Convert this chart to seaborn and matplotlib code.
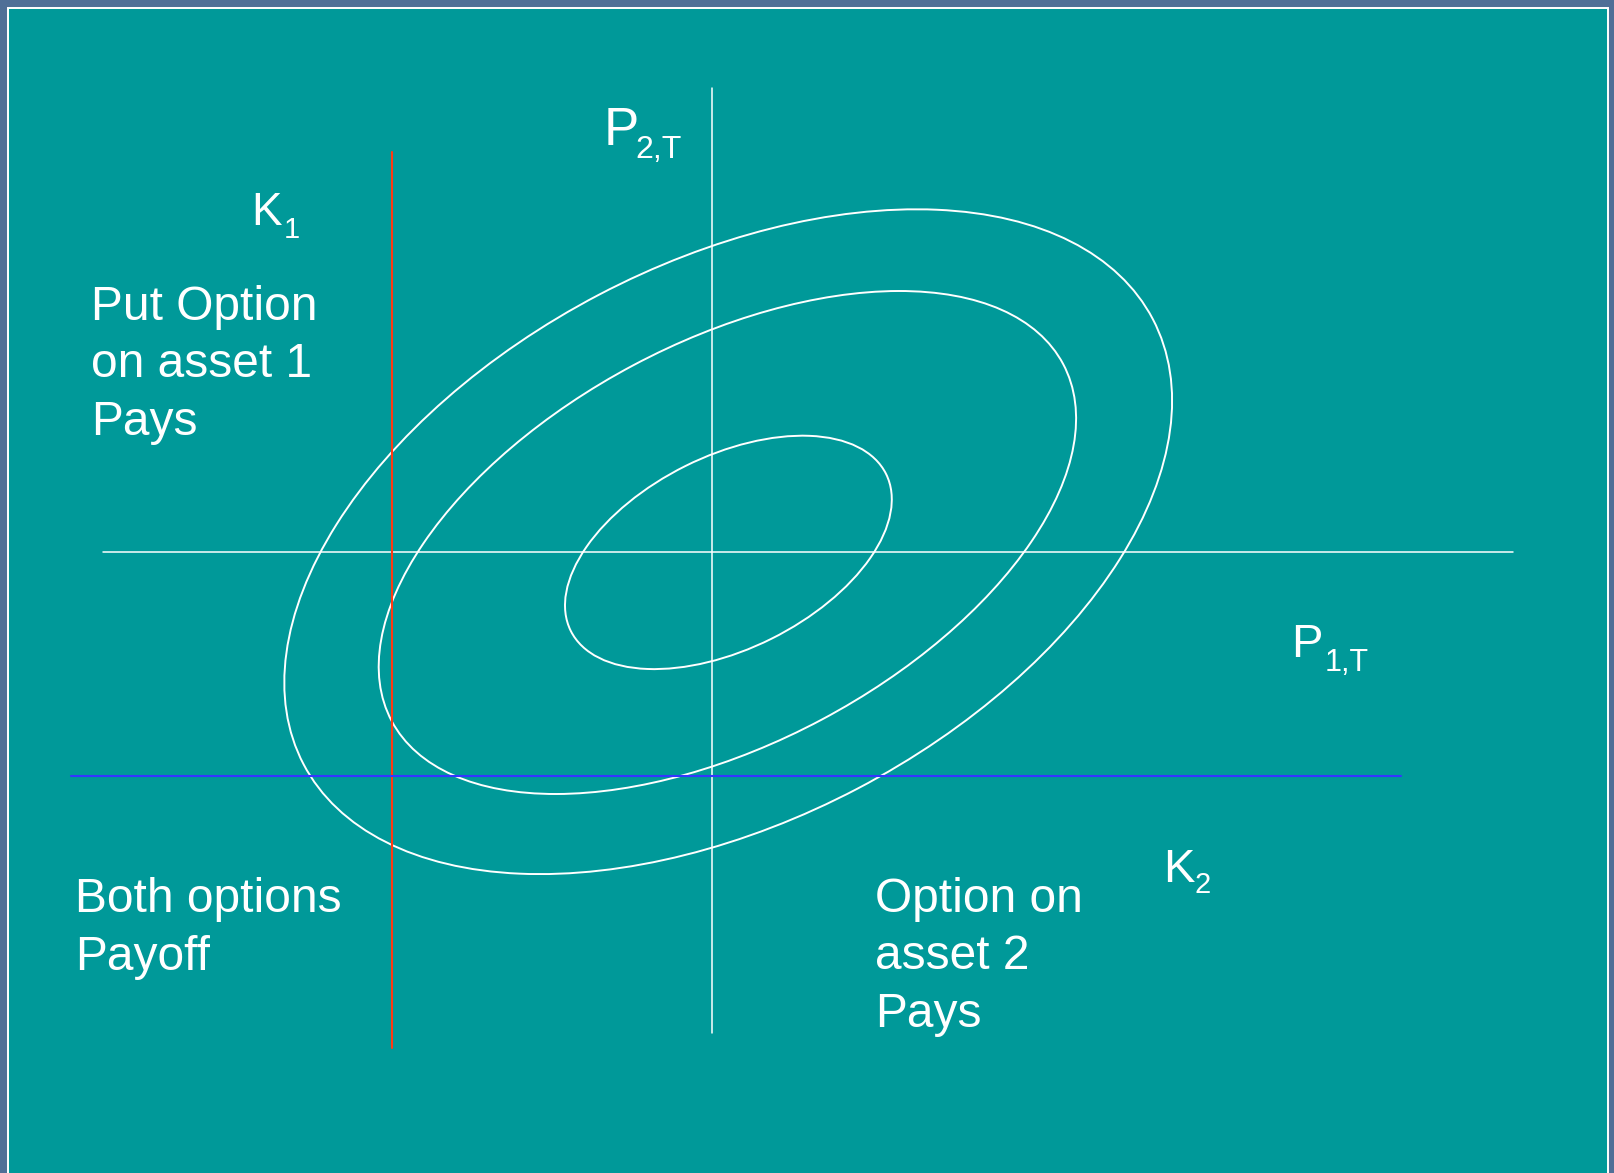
import numpy as np
import matplotlib
matplotlib.use("Agg")
import matplotlib.pyplot as plt
from matplotlib.patches import Ellipse, Rectangle
import seaborn as sns

# ---------------- data (pixel space of the slide) ----------------
# Contour ellipses of the joint distribution of (P1,T , P2,T)
ellipse_cx = [728.2, 727.4, 728.4]
ellipse_cy = [541.7, 542.5, 552.4]
ellipse_half_w = [443.9, 348.7, 163.4]
ellipse_half_h = [332.4, 251.5, 116.7]
ellipse_corr = [-0.424, -0.493, -0.454]   # y measured downward

# Reference lines: axes and strikes
line_names = ["P2 axis", "P1 axis", "K1 strike", "K2 strike"]
line_x0 = [712, 103, 392, 71]
line_x1 = [712, 1513, 392, 1401]
line_y0 = [88, 552.3, 152, 776.3]
line_y1 = [1033, 552.3, 1048, 776.3]
line_colors = ["white", "white", "#ff3a12", "#3535ff"]
line_widths = [1.1, 1.1, 1.5, 1.5]

# Labels: (main, subscript)
sym_main = ["P", "K", "P", "K"]
sym_sub = ["2,T", "1", "1,T", "2"]
sym_x = [604, 251, 1291, 1163]
sym_y = [145, 225, 657, 882]
sym_sub_x = [635, 284, 1325, 1195]
sym_sub_y = [158, 238, 671, 893]
sym_size = [38, 33, 34, 34]
sym_sub_size = [23, 21, 22, 21]

block_lines = [["Put Option", "on asset 1", "Pays"],
               ["Both options", "Payoff"],
               ["Option on", "asset 2", "Pays"]]
block_x = [91, 75, 875]
block_y0 = [320, 912.5, 912]
block_step = 57.3

# ---------------- drawing ----------------
sns.set_theme(style="white")
plt.rcParams["font.family"] = ["Liberation Sans", "DejaVu Sans"]

fig = plt.figure(figsize=(16.15, 11.73), dpi=100)
fig.patch.set_facecolor("#4f6f97")
ax = fig.add_axes([0, 0, 1, 1])
ax.set_facecolor("none")

ax.add_patch(Rectangle((8, 8), 1600, 1200, facecolor="#009999",
                       edgecolor="white", lw=1.4, zorder=0))

for cx, cy, hw, hh, r in zip(ellipse_cx, ellipse_cy, ellipse_half_w,
                             ellipse_half_h, ellipse_corr):
    M = np.array([[hw * hw, r * hw * hh], [r * hw * hh, hh * hh]])
    vals, vecs = np.linalg.eigh(M)
    a, b = np.sqrt(vals[1]), np.sqrt(vals[0])
    v = vecs[:, 1]
    ang = np.degrees(np.arctan2(v[1], v[0]))
    ax.add_patch(Ellipse((cx, cy), 2 * a, 2 * b, angle=ang, fill=False,
                         edgecolor="white", lw=1.4, zorder=2))

for x0, x1, y0, y1, c, w in zip(line_x0, line_x1, line_y0, line_y1,
                                line_colors, line_widths):
    sns.lineplot(x=[x0, x1], y=[y0, y1], estimator=None, sort=False,
                 color=c, lw=w, ax=ax, zorder=3)

for m, s, x, y, sx, sy, fs, sfs in zip(sym_main, sym_sub, sym_x, sym_y,
                                       sym_sub_x, sym_sub_y, sym_size,
                                       sym_sub_size):
    ax.text(x, y, m, color="white", fontsize=fs, ha="left", va="baseline")
    ax.text(sx, sy, s, color="white", fontsize=sfs, ha="left", va="baseline")

for lines, bx, by in zip(block_lines, block_x, block_y0):
    for i, t in enumerate(lines):
        ax.text(bx, by + i * block_step, t, color="white", fontsize=34.5,
                ha="left", va="baseline")

ax.set_xlim(0, 1615)
ax.set_ylim(1173, 0)
ax.axis("off")

fig.savefig("out.png", dpi=100, facecolor=fig.get_facecolor())
